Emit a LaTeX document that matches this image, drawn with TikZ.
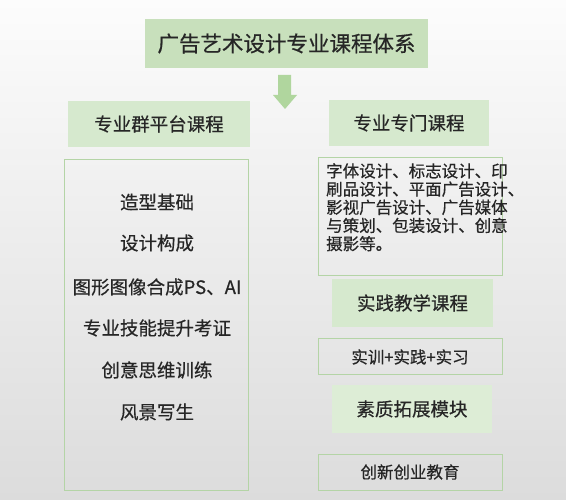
\documentclass[tikz,border=0pt]{standalone}
\usepackage{fontspec}
\setmainfont{Noto Sans CJK SC}[FakeBold=0.5]
\definecolor{bgtop}{HTML}{FCFCFC}
\definecolor{bgbot}{HTML}{DCDCDC}
\definecolor{titlefill}{HTML}{C8E0BC}
\definecolor{headfill}{HTML}{D6E9CE}
\definecolor{lightfill}{HTML}{DDEDD6}
\definecolor{boxline}{HTML}{B4D4A6}
\definecolor{arrowfill}{HTML}{B0D69E}
\definecolor{txt}{HTML}{262626}
\tikzset{
  titlebox/.style={fill=titlefill, draw=none, inner sep=0pt, text=txt, font=\fontsize{21.5}{24}\selectfont},
  headbox/.style={fill=headfill, draw=none, inner sep=0pt, text=txt, font=\fontsize{18.5}{22}\selectfont},
  softbox/.style={fill=lightfill, draw=none, inner sep=0pt, text=txt, font=\fontsize{18.5}{22}\selectfont},
  framebox/.style={draw=boxline, line width=1pt, fill=none, inner sep=0pt, text=txt, font=\fontsize{16.5}{20}\selectfont},
  itemtext/.style={text=txt, inner sep=0pt, font=\fontsize{18.5}{22}\selectfont},
}
\begin{document}
\begin{tikzpicture}[x=1pt,y=-1pt]
\useasboundingbox (0,0) rectangle (566,500);
\shade[top color=bgtop, bottom color=bgbot] (0,0) rectangle (566,500);
% title
\node[titlebox, minimum width=283pt, minimum height=49pt] (title) at (286.5,43.5) {广告艺术设计专业课程体系};
% arrow
\fill[arrowfill] (278,75) -- (291,75) -- (291,95) -- (297,95) -- (285,109) -- (273,95) -- (278,95) -- cycle;
% headers
\node[headbox, minimum width=182pt, minimum height=46pt] (lefthead) at (159,124) {专业群平台课程};
\node[headbox, minimum width=160pt, minimum height=46pt] (righthead) at (409,123) {专业专门课程};
% left big box
\node[framebox, minimum width=184pt, minimum height=330pt] (leftbox) at (156,325) {};
\node[itemtext] (i1) at (157,202) {造型基础};
\node[itemtext] (i2) at (157,243) {设计构成};
\node[itemtext] (i3) at (157,287) {图形图像合成PS、AI};
\node[itemtext] (i4) at (157,328) {专业技能提升考证};
\node[itemtext] (i5) at (157,370) {创意思维训练};
\node[itemtext] (i6) at (157,412) {风景写生};
% right text box
\node[framebox, minimum width=184pt, minimum height=118pt] (textbox) at (410,217) {};
\node[text=txt, inner sep=0pt, anchor=north west, align=left, font=\fontsize{16.5}{18.2}\selectfont] (coursetext) at (326,163) {字体设计、标志设计、印\\刷品设计、平面广告设计、\\影视广告设计、广告媒体\\与策划、包装设计、创意\\摄影等。};
% practice
\node[headbox, minimum width=161pt, minimum height=48pt] (practhead) at (412.5,303) {实践教学课程};
\node[framebox, minimum width=184pt, minimum height=36pt] (practbox) at (410,357) {实训+实践+实习};
% quality
\node[softbox, minimum width=160pt, minimum height=48pt] (qualhead) at (412,409) {素质拓展模块};
\node[framebox, minimum width=184pt, minimum height=36pt] (qualbox) at (410,472) {创新创业教育};
\end{tikzpicture}
\end{document}
